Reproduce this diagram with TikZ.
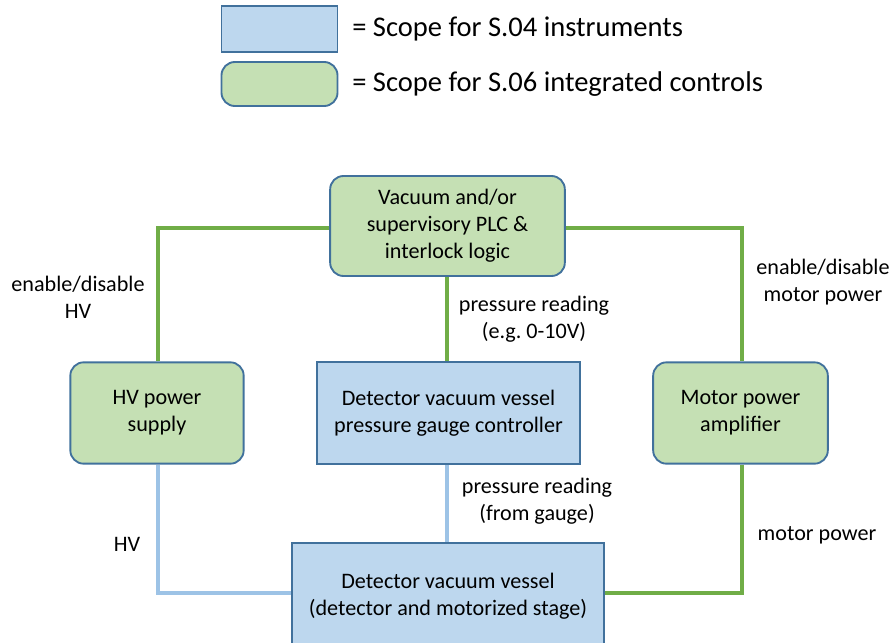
\documentclass[tikz,border=0pt]{standalone}
\usepackage{fontspec}
\setmainfont{Carlito}
\usetikzlibrary{calc,backgrounds}
\definecolor{boxblue}{HTML}{BDD7EE}\definecolor{boxgreen}{HTML}{C5E0B4}\definecolor{edge}{HTML}{41719C}
\definecolor{wiregreen}{HTML}{70AD47}\definecolor{wireblue}{HTML}{9DC3E6}
\begin{document}
\begin{tikzpicture}[x=0.75pt,y=-0.75pt,font=\fontsize{16.6}{20.3}\selectfont,
instbox/.style={draw=edge,line width=1.4pt,fill=boxblue,align=center,inner sep=0pt},
ctrlbox/.style={instbox,fill=boxgreen,rounded corners=10pt},
gwire/.style={wiregreen,line width=3pt},bwire/.style={wireblue,line width=3pt},
lbl/.style={align=center,inner sep=0pt}]
\useasboundingbox(0,0)rectangle(894,643);
\node[instbox,minimum width=87pt,minimum height=34pt](keyb)at(279.5,29){};\node[lbl,anchor=west,font=\fontsize{21.4}{24}\selectfont](keybt)at(352,29){= Scope for S.04 instruments};
\node[ctrlbox,minimum width=87pt,minimum height=33pt](keyg)at(279.5,84){};\node[lbl,anchor=west,font=\fontsize{21.4}{24}\selectfont](keygt)at(352,84){= Scope for S.06 integrated controls};
\node[ctrlbox,minimum width=176pt,minimum height=75pt](plc)at(447.5,226){Vacuum and/or\\supervisory PLC \&\\interlock logic};
\node[ctrlbox,minimum width=130pt,minimum height=76pt](hv)at(157,413){HV power\\supply};
\node[instbox,minimum width=197pt,minimum height=76pt](gauge)at(448.5,413){Detector vacuum vessel\\pressure gauge controller};
\node[ctrlbox,minimum width=131pt,minimum height=76pt](amp)at(740.5,413){Motor power\\amplifier};
\node[instbox,minimum width=234pt,minimum height=79.5pt](vessel)at(448,596){Detector vacuum vessel\\(detector and motorized stage)};
\coordinate(hvc)at(158,228);\coordinate(ampc)at(742,228);\coordinate(hvb)at(158,593);\coordinate(ampb)at(742,593);
\begin{scope}[on background layer]
\draw[gwire](plc.west|-hvc)--(hvc)--(hv.north-|hvc);\draw[gwire](plc.east|-ampc)--(ampc)--(amp.north-|ampc);
\draw[gwire](plc.south-|447,0)--(gauge.north-|447,0);\draw[bwire](gauge.south-|447,0)--(vessel.north-|447,0);
\draw[bwire](hv.south-|hvb)--(hvb)--(vessel.west|-hvb);\draw[gwire](amp.south-|ampb)--(ampb)--(vessel.east|-ampb);
\end{scope}
\node[lbl](l1)at(78,297){enable/disable\\HV};\node[lbl](l2)at(823,282){enable/disable\\motor power};
\node[lbl](l3)at(534,319){pressure reading\\(e.g.\ 0-10V)};\node[lbl](l4)at(537,501){pressure reading\\(from gauge)};
\node[lbl](l5)at(127,544){HV};\node[lbl](l6)at(817,535){motor power};
\end{tikzpicture}
\end{document}
